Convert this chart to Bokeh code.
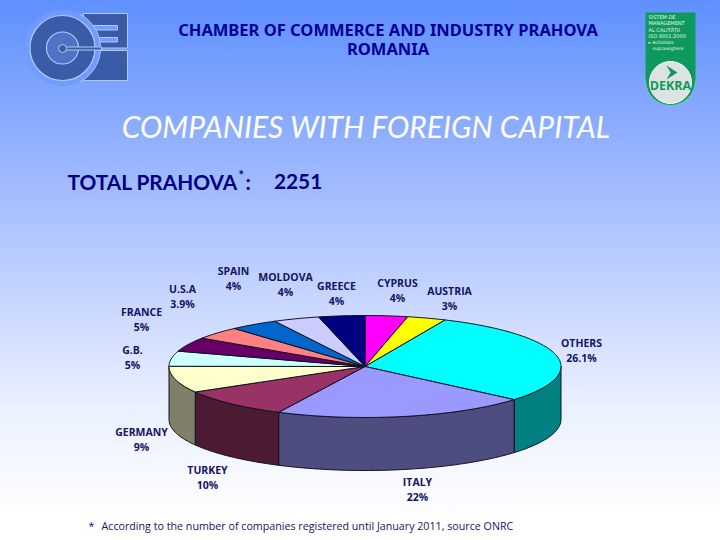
import numpy as np
from bokeh.core.properties import value
from bokeh.plotting import figure
from bokeh.embed import file_html
from bokeh.resources import INLINE

# ---- data
countries = ["CYPRUS", "AUSTRIA", "OTHERS", "ITALY", "TURKEY", "GERMANY",
             "G.B.", "FRANCE", "U.S.A", "SPAIN", "MOLDOVA", "GREECE"]
printed = ["4%", "3%", "26.1%", "22%", "10%", "9%", "5%", "5%", "3.9%", "4%", "4%", "4%"]
# slice sizes as actually drawn in the picture (%), clockwise from 12 o'clock
drawn_share = [3.5, 3.2, 29.5, 21.0, 9.4, 8.4, 4.8, 4.5, 4.0, 4.0, 3.8, 3.8]

# ---- styles
top_colors = ["#FF00FF", "#FFFF00", "#00FFFF", "#9999FF", "#993366", "#FFFFCC",
              "#CCFFFF", "#660066", "#FF8080", "#0066CC", "#CCCCFF", "#000080"]
side_colors = ["#800080", "#808000", "#008080", "#4D4D80", "#4D1A33", "#80806A",
               "#668080", "#330033", "#804040", "#003366", "#666680", "#000040"]
label_x = [397, 449, 581, 417, 207, 141, 132, 141, 182, 233, 285, 336]
label_y = [282, 290, 342, 481, 469, 431, 349, 311, 288, 270, 276, 285]
CX, CY, RX, RY, DEPTH = 364.5, 366, 196, 51, 53
NAVY = "#14145F"

p = figure(width=720, height=540, x_range=(0, 720), y_range=(540, 0),
           output_backend="svg", toolbar_location=None, min_border=0,
           x_axis_location=None, y_axis_location=None,
           background_fill_color=None, border_fill_color=None, outline_line_color=None)
p.grid.visible = False

# ---- pie, from the shares
edges = np.concatenate([[0], np.cumsum(drawn_share)]) / np.sum(drawn_share) * 2 * np.pi


def arc(a, b):
    t = np.linspace(a, b, max(3, int((b - a) * 60)))
    return CX + RX * np.sin(t), CY - RY * np.cos(t)


for i in range(len(drawn_share)):
    a, b = max(edges[i], np.pi / 2), min(edges[i + 1], 3 * np.pi / 2)
    if b > a:
        x, y = arc(a, b)
        p.patch(np.r_[x, x[::-1]], np.r_[y, y[::-1] + DEPTH],
                fill_color=side_colors[i], line_color="#101020", line_width=1)
for i in range(len(drawn_share)):
    x, y = arc(edges[i], edges[i + 1])
    p.patch(np.r_[CX, x], np.r_[CY, y], fill_color=top_colors[i],
            line_color="#101020", line_width=1)

# ---- pie labels
p.text(label_x, label_y, text=countries, text_font=value("Open Sans"), text_font_style="bold",
       text_font_size="10.5px", text_color=NAVY, text_align="center", text_baseline="middle")
p.text(label_x, [v + 15.5 for v in label_y], text=printed, text_font=value("Open Sans"),
       text_font_style="bold", text_font_size="10.5px", text_color=NAVY,
       text_align="center", text_baseline="middle")

# ---- headings
p.text([387.5, 387.5], [28.5, 47.5], text=["CHAMBER OF COMMERCE AND INDUSTRY PRAHOVA", "ROMANIA"],
       text_font=value("Noto Sans"), text_font_style="bold", text_font_size="16.5px",
       text_color="#000099", text_align="center", text_baseline="middle")
p.text([365.5], [125], text=["COMPANIES WITH FOREIGN CAPITAL"], text_font=value("Lato"),
       text_font_style="italic", text_font_size="30px", text_color="white",
       text_align="center", text_baseline="middle")
p.text([67, 273.5], [180.5, 180.5], text=["TOTAL PRAHOVA", "2251"], text_font=value("Lato"),
       text_font_style="bold", text_font_size="20.8px", text_color="#000080",
       text_align="left", text_baseline="middle")
p.text([238], [174.5], text=["*"], text_font=value("Lato"), text_font_style="bold",
       text_font_size="13px", text_color="#000080", text_align="left", text_baseline="middle")
p.text([245], [180.5], text=[":"], text_font=value("Lato"), text_font_style="bold",
       text_font_size="20.8px", text_color="#000080", text_align="left", text_baseline="middle")
p.text([88, 101], [525, 525],
       text=["*", "According to the number of companies registered until January 2011, source ONRC"],
       text_font=value("Open Sans"), text_font_size="10.7px", text_color=NAVY,
       text_align="left", text_baseline="middle")

# ---- chamber logo
DARK, EDGE, BG = "#3A5CA8", "#B4C8F2", "#709CFF"
p.quad(left=[83, 83], right=[127, 127], top=[13, 50], bottom=[47.5, 80],
       fill_color=DARK, line_color=EDGE, line_width=1)
p.quad(left=[92, 92], right=[117, 117], top=[25, 37], bottom=[29.5, 41.5],
       fill_color=BG, line_color=EDGE, line_width=1)
p.circle([62], [47.5], radius=38, fill_color=BG, line_color=None)
ring = np.linspace(-1.1, 1.1, 40)
p.line(62 + 38 * np.cos(ring), 47.5 + 38 * np.sin(ring), line_color=EDGE, line_width=1)
p.circle([62], [47.5], radius=32.5, fill_color=DARK, line_color=EDGE, line_width=1.2)
p.circle([62], [47.5], radius=16, fill_color="#4E73C6", line_color=EDGE, line_width=1.2)
p.quad(left=[62], right=[101], top=[46.5], bottom=[49.5], fill_color=DARK, line_color=EDGE, line_width=1)
p.circle([62], [48], radius=4, fill_color=DARK, line_color=EDGE, line_width=1)

# ---- certification badge
GREEN = "#0E9A5C"
p.circle([670], [80], radius=25, fill_color=GREEN, line_color="#7FC4C8", line_width=1)
p.quad(left=[645], right=[695], top=[12], bottom=[80], fill_color=GREEN, line_color=None)
p.circle([670], [82], radius=21, fill_color="#DDE3E2", line_color="white", line_width=1)
p.text([648] * 4, [16, 22.5, 29, 35.5], text=["SISTEM DE", "MANAGEMENT", "AL CALITĂȚII", "ISO 9001:2000"],
       text_font=value("DejaVu Sans"), text_font_size="5px", text_color="#E8F5E8", text_baseline="middle")
p.text([648, 652], [42, 48], text=["▸ Activitate ", "supraveghere"],
       text_font=value("DejaVu Sans"), text_font_size="4.5px", text_color="#E8F5E8", text_baseline="middle")
p.patch([666, 677, 666, 670], [65, 72, 79, 72], fill_color=GREEN, line_color=None)
p.text([670], [85], text=["DEKRA"], text_font=value("Open Sans"), text_font_style="bold",
       text_font_size="12.5px", text_color=GREEN, text_align="center", text_baseline="middle")

TEMPLATE = """{% block preamble %}<style>html{min-height:100%;
background:linear-gradient(#5F90FF 0,#A6BEFF 200px,#E9EFFF 400px,#FFFFFF 520px);background-repeat:no-repeat}
body{background:transparent}</style>{% endblock %}"""
open("out.html", "w").write(file_html(p, INLINE, template=TEMPLATE))
